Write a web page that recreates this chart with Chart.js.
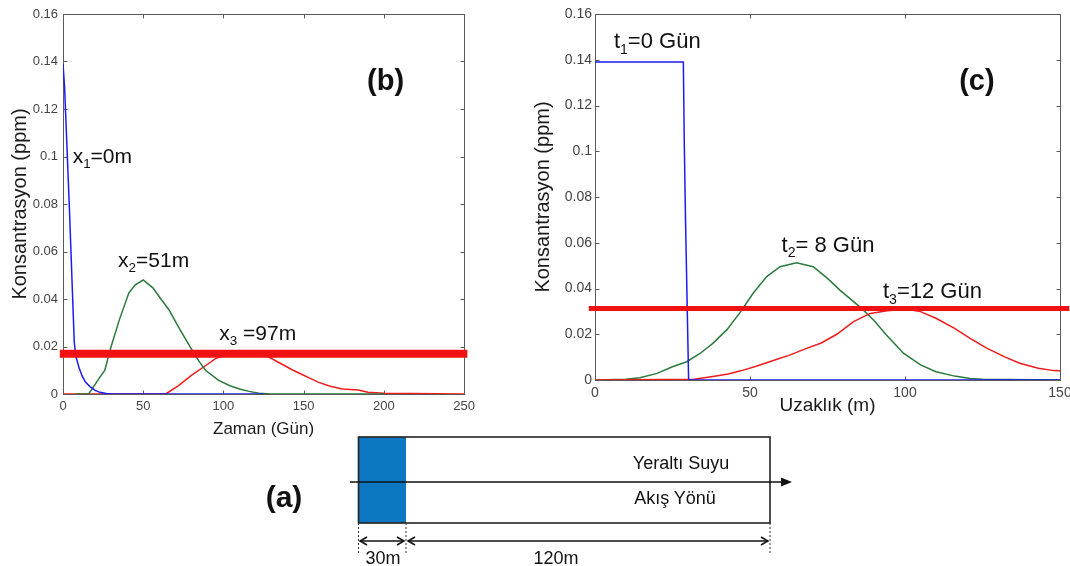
<!DOCTYPE html>
<html><head><meta charset="utf-8">
<script src="https://cdn.jsdelivr.net/npm/chart.js@4"></script>
<style>
html,body{margin:0;padding:0;background:#fff;width:1070px;height:566px;overflow:hidden;}
#cb{position:absolute;left:0;top:0;}
#cc{position:absolute;left:520px;top:0;}
#diag{position:absolute;left:0;top:0;font-family:"Liberation Sans",Arial,sans-serif;}
</style></head><body>
<canvas id="cb" width="480" height="440"></canvas>
<canvas id="cc" width="580" height="420"></canvas>
<svg id="diag" width="1070" height="566">
  <rect x="358" y="437" width="48" height="86" fill="#0b78c1"/>
  <rect x="358.5" y="437" width="411.5" height="86" fill="none" stroke="#222" stroke-width="1.6"/>
  <line x1="350" y1="482" x2="784" y2="482" stroke="#111" stroke-width="1.6"/>
  <polygon points="792,482 781,477.5 781,486.5" fill="#111"/>
  <g stroke="#333" stroke-width="1" stroke-dasharray="2,2">
    <line x1="358.5" y1="523" x2="358.5" y2="553"/>
    <line x1="406" y1="523" x2="406" y2="553"/>
    <line x1="770" y1="523" x2="770" y2="553"/>
  </g>
  <g stroke="#111" stroke-width="1.5" fill="none">
    <line x1="360" y1="541" x2="404" y2="541"/>
    <polyline points="367,537 360,541 367,545"/>
    <polyline points="397,537 404,541 397,545"/>
    <line x1="408" y1="541" x2="768" y2="541"/>
    <polyline points="415,537 408,541 415,545"/>
    <polyline points="761,537 768,541 761,545"/>
  </g>
  <text x="383" y="564" font-size="18" text-anchor="middle" fill="#111">30m</text>
  <text x="556" y="564" font-size="18" text-anchor="middle" fill="#111">120m</text>
  <text x="681" y="469" font-size="18" text-anchor="middle" fill="#111">Yeraltı Suyu</text>
  <text x="675" y="504" font-size="18" text-anchor="middle" fill="#111">Akış Yönü</text>
  <text x="284" y="507" font-size="30" font-weight="bold" text-anchor="middle" fill="#111">(a)</text>
</svg>
<script>
const FF = '"Liberation Sans", Arial, sans-serif';
const BLUE = '#1c1cf2', GREEN = '#2b7a3b', RED = '#ee1c1c', LIMIT_RED = '#f01212';

// ---------- Chart (b): concentration vs time ----------
const bXTicks = [0, 50, 100, 150, 200, 250];
const bYTicks = [0, 0.02, 0.04, 0.06, 0.08, 0.1, 0.12, 0.14, 0.16];
const bBlueX = [0, 1, 4, 7, 8, 10, 12, 14, 17, 20, 23, 27, 31, 125];
const bBlueY = [0.139, 0.129, 0.078, 0.022, 0.016, 0.011, 0.0075, 0.005, 0.003, 0.0015, 0.0007, 0.0002, 0, 0];
const bGreenX = [8, 16, 19, 23, 26, 30, 35, 41, 45, 50, 56, 61, 66, 73, 80, 85, 89, 97, 104, 110, 116, 122, 130, 200];
const bGreenY = [0, 0, 0.003, 0.0071, 0.0099, 0.020, 0.031, 0.0425, 0.046, 0.048, 0.0447, 0.040, 0.0355, 0.027, 0.019, 0.0135, 0.0099, 0.0057, 0.0035, 0.0021, 0.0011, 0.0003, 0, 0];
const bRedX = [0, 64, 72, 80, 89, 95, 101, 105, 110, 115, 120, 125, 128, 133, 138, 143, 149, 154, 159, 166, 174, 184, 190, 200, 250];
const bRedY = [0, 0, 0.0035, 0.0078, 0.012, 0.0149, 0.0163, 0.0172, 0.0177, 0.0178, 0.0174, 0.0165, 0.0156, 0.0138, 0.012, 0.0101, 0.0082, 0.0066, 0.005, 0.0034, 0.0021, 0.0017, 0.0007, 0.0003, 0];
const bLimitX = [-2, 252];
const bLimit = 0.017;

// ---------- Chart (c): concentration vs distance ----------
const cXTicks = [0, 50, 100, 150];
const cYTicks = [0, 0.02, 0.04, 0.06, 0.08, 0.1, 0.12, 0.14, 0.16];
const cBlueX = [0, 28.5, 28.8, 29.2, 29.7, 30.2, 150];
const cBlueY = [0.139, 0.139, 0.1035, 0.07, 0.035, 0, 0];
const cGreenX = [0, 10, 14.5, 20, 25, 29.6, 34, 38, 42.5, 47, 51, 55.4, 59.7, 65, 70.4, 75, 79, 86, 90, 94, 99.5, 105, 110, 116, 121, 125, 150];
const cGreenY = [0, 0.0003, 0.001, 0.0029, 0.0058, 0.008, 0.0117, 0.016, 0.0219, 0.0299, 0.0379, 0.0452, 0.0495, 0.0513, 0.0495, 0.0444, 0.0393, 0.0313, 0.026, 0.0197, 0.0117, 0.0066, 0.0036, 0.0017, 0.0007, 0.0003, 0];
const cRedX = [0, 32, 38, 43, 47, 52, 57.5, 63, 68, 73, 78, 83.4, 88.8, 94.2, 100.4, 105, 110, 116, 121, 126.5, 132, 137, 143, 148, 150];
const cRedY = [0, 0.0003, 0.0015, 0.0026, 0.004, 0.006, 0.0085, 0.011, 0.0137, 0.0162, 0.02, 0.0255, 0.0291, 0.0303, 0.0309, 0.0299, 0.027, 0.0226, 0.0182, 0.0138, 0.0102, 0.0073, 0.0051, 0.0041, 0.004];
const cLimitX = [-2, 153];
const cLimit = 0.0313;

// annotation texts (subscript parts are arrays), anchored in data coordinates
const bNotes = [
  {parts: ['x', ['1'], '=0m'], x: 6, y: 0.0973, size: 21},
  {parts: ['x', ['2'], '=51m'], x: 34.3, y: 0.0536, size: 21},
  {parts: ['x', ['3'], ' =97m'], x: 97.4, y: 0.0227, size: 21},
  {parts: ['(b)'], x: 201, y: 0.1314, size: 29, bold: true, center: true}
];
const cNotes = [
  {parts: ['t', ['1'], '=0 Gün'], x: 6.1, y: 0.145, size: 22},
  {parts: ['t', ['2'], '= 8 Gün'], x: 60.2, y: 0.0561, size: 22},
  {parts: ['t', ['3'], '=12 Gün'], x: 92.9, y: 0.0357, size: 22},
  {parts: ['(c)'], x: 123.2, y: 0.1303, size: 29, bold: true, center: true}
];

const pts = (xs, ys) => xs.map((v, i) => ({x: v, y: ys[i]}));

const frameTicks = {
  id: 'frameTicks',
  beforeDatasetsDraw(chart) {
    const {ctx, chartArea: a, scales: {x, y}} = chart;
    ctx.save();
    ctx.strokeStyle = '#5a5a5a'; ctx.lineWidth = 1;
    const l = Math.round(a.left) + 0.5, t = Math.round(a.top) + 0.5;
    const r = Math.round(a.right) + 0.5, b = Math.round(a.bottom) + 0.5;
    ctx.strokeRect(l, t, r - l, b - t);
    const L = 4;
    ctx.beginPath();
    x.ticks.forEach(tk => {
      const px = Math.round(x.getPixelForValue(tk.value)) + 0.5;
      ctx.moveTo(px, t); ctx.lineTo(px, t + L);
      ctx.moveTo(px, b); ctx.lineTo(px, b - L);
    });
    y.ticks.forEach(tk => {
      const py = Math.round(y.getPixelForValue(tk.value)) + 0.5;
      ctx.moveTo(l, py); ctx.lineTo(l + L, py);
      ctx.moveTo(r, py); ctx.lineTo(r - L, py);
    });
    ctx.stroke();
    ctx.restore();
  }
};

const richLabels = {
  id: 'richLabels',
  afterDatasetsDraw(chart, args, opts) {
    const {ctx, scales: {x, y}} = chart;
    ctx.save();
    ctx.fillStyle = '#111';
    (opts.items || []).forEach(it => {
      const w = it.bold ? 'bold ' : '';
      let px = x.getPixelForValue(it.x), py = y.getPixelForValue(it.y);
      if (it.center) {
        ctx.font = w + it.size + 'px ' + FF;
        ctx.textAlign = 'center'; ctx.textBaseline = 'middle';
        ctx.fillText(it.parts.join(''), px, py);
        return;
      }
      ctx.textAlign = 'left'; ctx.textBaseline = 'alphabetic';
      it.parts.forEach(p => {
        const sub = Array.isArray(p);
        const txt = sub ? p[0] : p;
        const fs = sub ? it.size * 0.64 : it.size;
        ctx.font = w + fs + 'px ' + FF;
        ctx.fillText(txt, px, sub ? py + it.size * 0.25 : py);
        px += ctx.measureText(txt).width;
      });
    });
    ctx.restore();
  }
};

function makeChart(id, cfg) {
  const fmt = v => String(+Number(v).toFixed(2));
  return new Chart(document.getElementById(id), {
    type: 'line',
    data: {datasets: cfg.datasets},
    options: {
      responsive: false, animation: false, events: [],
      elements: {point: {radius: 0}, line: {tension: 0, borderWidth: 1.5}},
      layout: {padding: cfg.padding},
      plugins: {legend: {display: false}, tooltip: {enabled: false}, richLabels: {items: cfg.notes}},
      scales: {
        x: {
          type: 'linear', min: cfg.xMin, max: cfg.xMax,
          afterBuildTicks: s => { s.ticks = cfg.xTicks.map(v => ({value: v})); },
          afterFit: s => { s.height = cfg.xAxisH; },
          grid: {display: false, drawTicks: false}, border: {display: false},
          ticks: {padding: 5, color: '#444', maxRotation: 0, autoSkip: false, font: {size: cfg.tickSize, family: FF}, callback: fmt},
          title: {display: true, text: cfg.xTitle, color: '#1a1a1a', font: {size: cfg.xTitleSize, family: FF}, padding: {top: 0, bottom: cfg.xTitlePad}}
        },
        y: {
          type: 'linear', min: 0, max: 0.16,
          afterBuildTicks: s => { s.ticks = cfg.yTicks.map(v => ({value: v})); },
          afterFit: s => { s.width = cfg.yAxisW; },
          grid: {display: false, drawTicks: false}, border: {display: false},
          ticks: {padding: cfg.yTickPad, color: '#444', autoSkip: false, font: {size: cfg.tickSize, family: FF}, callback: fmt},
          title: {display: true, text: 'Konsantrasyon (ppm)', color: '#1a1a1a', font: {size: 20, family: FF}, padding: {top: cfg.yTitlePad, bottom: 0}}
        }
      }
    },
    plugins: [frameTicks, richLabels]
  });
}

makeChart('cb', {
  datasets: [
    {label: 'Sınır', data: pts(bLimitX, [bLimit, bLimit]), borderColor: LIMIT_RED, borderWidth: 8, clip: false, order: 0},
    {label: 'x1=0m', data: pts(bBlueX, bBlueY), borderColor: BLUE, order: 1},
    {label: 'x2=51m', data: pts(bGreenX, bGreenY), borderColor: GREEN, order: 2},
    {label: 'x3=97m', data: pts(bRedX, bRedY), borderColor: RED, order: 3}
  ],
  notes: bNotes, padding: {top: 14, right: 14, bottom: 0, left: 0},
  xMin: 0, xMax: 250, xTicks: bXTicks, yTicks: bYTicks,
  xAxisH: 46, yAxisW: 63, tickSize: 13, yTickPad: 5,
  xTitle: 'Zaman (Gün)', xTitleSize: 17, xTitlePad: 0, yTitlePad: 8
});

makeChart('cc', {
  datasets: [
    {label: 'Sınır', data: pts(cLimitX, [cLimit, cLimit]), borderColor: LIMIT_RED, borderWidth: 5, clip: false, order: 0},
    {label: 't1=0 Gün', data: pts(cBlueX, cBlueY), borderColor: BLUE, order: 1},
    {label: 't3=12 Gün', data: pts(cRedX, cRedY), borderColor: RED, order: 2},
    {label: 't2=8 Gün', data: pts(cGreenX, cGreenY), borderColor: GREEN, order: 3}
  ],
  notes: cNotes, padding: {top: 14, right: 40, bottom: 0, left: 0},
  xMin: 0, xMax: 150, xTicks: cXTicks, yTicks: cYTicks,
  xAxisH: 40, yAxisW: 75, tickSize: 14, yTickPad: 3,
  xTitle: 'Uzaklık (m)', xTitleSize: 19, xTitlePad: 3, yTitlePad: 11
});
</script>
</body></html>
